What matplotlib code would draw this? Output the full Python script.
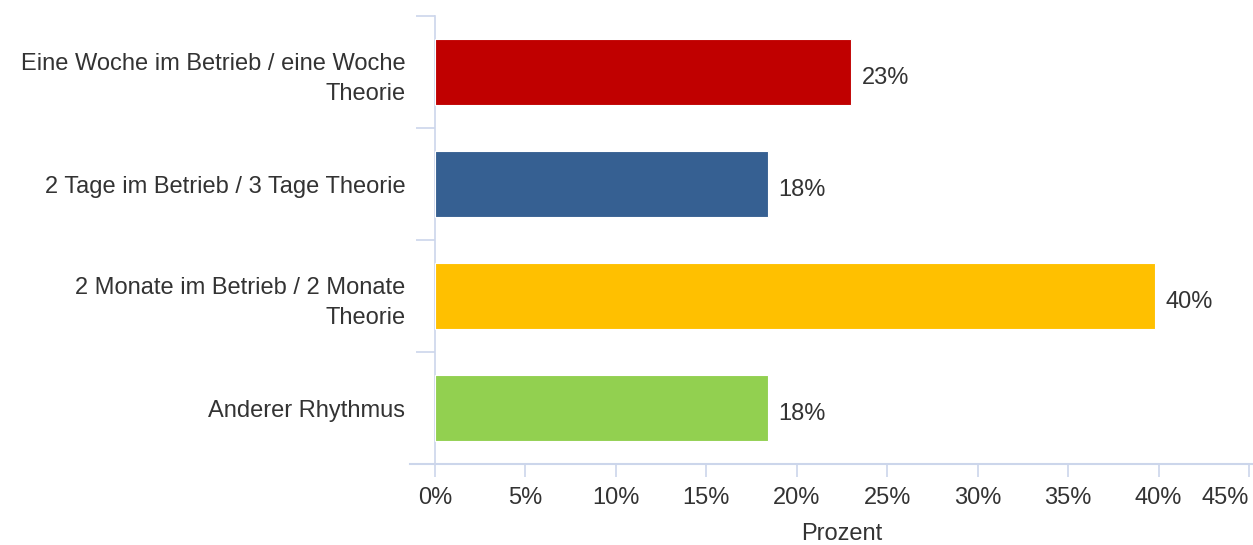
import matplotlib
matplotlib.use("Agg")
import matplotlib.pyplot as plt
from matplotlib.ticker import FixedLocator, FuncFormatter

# Survey data: preferred rhythm of work placement vs. theory
categories = [
    "Eine Woche im Betrieb / eine Woche\nTheorie",
    "2 Tage im Betrieb / 3 Tage Theorie",
    "2 Monate im Betrieb / 2 Monate\nTheorie",
    "Anderer Rhythmus",
]
values = [23.0, 18.4, 39.8, 18.4]
colors = ["#C00000", "#366092", "#FFC000", "#92D050"]
x_ticks = [0, 5, 10, 15, 20, 25, 30, 35, 40, 45]
x_label = "Prozent"

axis_color = "#CCD6EB"
text_color = "#333333"
font_size = 17

plt.rcParams["font.family"] = ["Liberation Sans", "DejaVu Sans"]

fig = plt.figure(figsize=(12.53, 5.45), dpi=100)
ax = fig.add_axes([435 / 1253, 1 - 464 / 545, (1249 - 435) / 1253, (464 - 16) / 545])

y_pos = list(range(len(categories)))
ax.barh(y_pos, values, height=0.59, color=colors, edgecolor="white", linewidth=0.8, zorder=3)

ax.set_xlim(0, 45)
ax.set_ylim(len(categories) - 0.5, -0.5)

# value labels at the end of each bar
for y, v in zip(y_pos, values):
    ax.annotate(f"{v:.0f}%", xy=(v, y), xytext=(7.5, -4.5), textcoords="offset points",
                ha="left", va="center", fontsize=font_size, color=text_color)

# y axis: category labels centred, tick marks at category boundaries
ax.set_yticks(y_pos)
ax.set_yticklabels(categories, fontsize=font_size, color=text_color, ha="right",
                   va="center_baseline", multialignment="right", linespacing=1.5)
ax.tick_params(axis="y", which="major", length=0, pad=21.5)
ax.yaxis.set_minor_locator(FixedLocator([i - 0.5 for i in range(len(categories) + 1)]))
ax.tick_params(axis="y", which="minor", length=13.5, width=1.2, color=axis_color, direction="out")

# x axis
ax.set_xticks(x_ticks)
ax.xaxis.set_major_formatter(FuncFormatter(lambda v, p: f"{v:.0f}%"))
ax.tick_params(axis="x", which="major", length=9, width=1.2, color=axis_color,
               labelsize=font_size, labelcolor=text_color, pad=7.5)
ax.set_xlabel(x_label, fontsize=font_size, color=text_color, labelpad=10)

# keep the last tick label inside the figure
ax.get_xticklabels()[-1].set_horizontalalignment("right")

for side in ("top", "right", "bottom"):
    ax.spines[side].set_visible(False)
ax.spines["left"].set_color(axis_color)
ax.spines["left"].set_linewidth(1.2)

# baseline running slightly past both ends of the plot area
ax.plot([-0.031, 1.006], [0, 0], transform=ax.transAxes, color=axis_color,
        linewidth=1.5, clip_on=False, zorder=4)

fig.savefig("out.png", dpi=100, facecolor="white")
